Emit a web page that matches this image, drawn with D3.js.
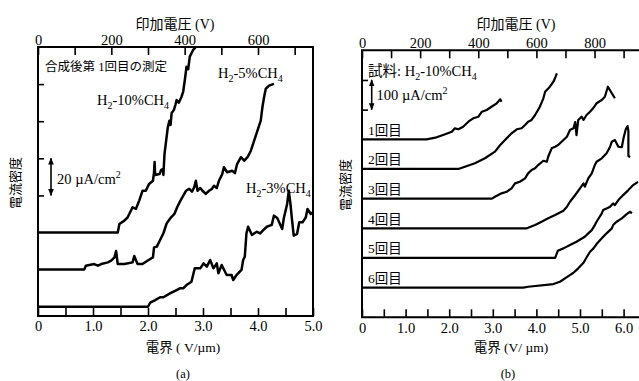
<!DOCTYPE html>
<html>
<head>
<meta charset="utf-8">
<script src="https://cdn.jsdelivr.net/npm/d3@7"></script>
<style>
  body { margin: 0; background: #fff; }
  svg { display: block; }
</style>
</head>
<body>
<svg id="chart" width="639" height="381"></svg>
<script>
// ---- panel (a): 合成後第1回目の測定, curves as [field V/um, current uA/cm2 above own baseline]
const fieldTicksA = [0, 0.5, 1, 1.5, 2, 2.5, 3, 3.5, 4, 4.5, 5]
const voltTicksA = [0, 100, 200, 300, 400, 500, 600, 700]
const currentTicksA = [65, 85, 105, 125]
const offsetsA = [45, 25, 5]
const namesA = ['10', '5', '3']

const h2_10 = [[0,0],[1.45,0],[1.48,4.6],[1.57,6.4],[1.63,8.2],[1.72,13.6],[1.78,12.7],[1.84,17.2],[1.90,22.5],
  [1.96,22.5],[2.02,26.2],[2.09,27.9],[2.11,32.6],[2.12,38],[2.13,31],[2.21,31.5],[2.24,33.8],[2.27,34.2],[2.28,31],
  [2.30,42.3],[2.33,49.5],[2.36,56.7],[2.39,60.3],[2.41,58],[2.43,64.4],[2.47,66],[2.50,69],[2.52,71.4],[2.56,70],
  [2.61,73.2],[2.64,76],[2.67,82.2],[2.70,89.4],[2.73,88],[2.76,94.8],[2.82,98.4],[2.87,100]]
const h2_5 = [[0,0],[0.84,0],[0.87,2.1],[1.02,3],[1.09,2.1],[1.15,3],[1.27,3.9],[1.33,4.8],[1.39,6.6],[1.42,10],
  [1.45,3],[1.57,3],[1.72,3.9],[1.75,7.3],[1.81,3],[1.90,3],[1.99,4.8],[2.09,6.6],[2.11,12],[2.16,12.4],[2.22,16],
  [2.28,19.6],[2.34,25],[2.42,28.2],[2.48,30],[2.53,33.6],[2.59,37.2],[2.69,42.5],[2.75,43.5],[2.80,42],[2.84,44.4],
  [2.87,47.9],[2.90,42.5],[2.95,44],[2.99,42.5],[3.05,40.8],[3.11,42.5],[3.16,43.5],[3.20,45.2],[3.25,44],[3.29,47.9],
  [3.35,51.5],[3.38,55.2],[3.44,52.5],[3.53,53.3],[3.58,52],[3.62,56.9],[3.69,60.6],[3.75,58.7],[3.81,60.6],
  [3.87,64.1],[3.93,69.5],[3.99,74.9],[4.05,80.3],[4.08,87.5],[4.11,92.9],[4.14,97.4],[4.20,99.2],[4.29,100.1]]
const h2_3 = [[0,0],[2.00,0],[2.04,2.2],[2.13,3.6],[2.22,5.1],[2.28,5.1],[2.40,7.2],[2.52,9],[2.58,9.9],[2.64,9.9],
  [2.70,11.7],[2.79,13.5],[2.85,20.7],[2.95,20.7],[3.01,23.4],[3.07,21.6],[3.13,25.2],[3.19,20.7],[3.25,23.4],
  [3.28,18],[3.34,22.5],[3.43,17.1],[3.52,17.1],[3.55,14.4],[3.61,17.1],[3.70,19.8],[3.73,25.2],[3.76,27],[3.79,39.6],
  [3.82,43.1],[3.89,38.7],[3.98,40.4],[4.04,39.5],[4.10,41.4],[4.16,43.1],[4.25,44.1],[4.29,49.1],[4.35,47.8],
  [4.44,41.9],[4.47,47.8],[4.53,55.4],[4.56,62.5],[4.59,55.4],[4.62,46.4],[4.65,38.3],[4.71,39.2],[4.75,45.5],
  [4.81,45.5],[4.87,48.2],[4.90,52.7],[4.96,50],[4.99,50.9]]
const seriesA = [h2_10, h2_5, h2_3]

// ---- panel (b): 試料 H2-10%CH4, 1回目..6回目
const fieldTicksB = [0.5, 1, 1.5, 2, 2.5, 3, 3.5, 4, 4.5, 5, 5.5, 6, 6.5]
const fieldLabelsB = [0, 1, 2, 3, 4, 5, 6]
const voltTicksB = [100, 200, 300, 400, 500, 600, 700, 800, 900, 1000]
const voltLabelsB = [0, 200, 400, 600, 800]
const currentTicksB = [700, 800]
const offsetsB = [600, 500, 400, 300, 200, 100]
const runNames = ['1回目', '2回目', '3回目', '4回目', '5回目', '6回目']

const run1 = [[0,0],[1.48,0],[1.71,6.7],[1.86,14.5],[2.06,25.6],[2.13,37],[2.21,33.7],[2.32,42.5],[2.44,59.3],
  [2.55,70.8],[2.67,76.1],[2.75,93],[2.86,98.7],[2.97,109.8],[3.09,121.3],[3.17,134.8],[3.20,126.7]]
const run2 = [[0,0],[2.21,0],[2.36,7.7],[2.59,19.2],[2.82,36],[3.05,58.3],[3.17,80.9],[3.28,97.7],[3.43,120.3],
  [3.55,133.8],[3.66,137.1],[3.74,148.2],[3.81,159.4],[3.89,165.1],[3.97,181.9],[4.08,209.9],[4.16,238.2],
  [4.20,260.4],[4.31,277.3],[4.39,294.1],[4.44,311],[4.47,322.4]]
const run3 = [[0,0],[2.98,0],[3.05,6.4],[3.20,17.9],[3.32,23.2],[3.43,34.7],[3.51,51.5],[3.62,56.9],[3.74,68.4],
  [3.81,85.2],[3.89,96.4],[3.97,102.1],[4.04,113.2],[4.16,127.7],[4.24,124.3],[4.27,141.2],[4.35,169.5],[4.43,174.9],
  [4.50,180.6],[4.62,197.4],[4.70,208.6],[4.77,231.1],[4.85,236.9],[4.89,258],[4.92,214.3],[4.96,265.2],[5.04,276.3],
  [5.08,265.2],[5.15,282],[5.23,293.1],[5.30,304.6],[5.38,321.4],[5.50,332.5],[5.57,343.6],[5.64,377.3],[5.73,355.1],
  [5.80,338.2]]
const run4 = [[0,0],[3.78,0],[3.97,11.1],[4.12,22.2],[4.27,33.7],[4.43,44.8],[4.62,59.3],[4.70,72.8],[4.77,89.6],
  [4.89,112.2],[5.00,134.8],[5.08,151.6],[5.11,140.2],[5.19,168.5],[5.27,185.3],[5.34,213.3],[5.38,224.4],[5.50,235.8],
  [5.61,252.7],[5.69,274.9],[5.73,291.8],[5.80,297.5],[5.88,274.9],[5.96,273.9],[6.00,305.3],[6.05,333.6],[6.09,344.7],
  [6.11,328],[6.11,243.7],[6.15,240.4]]
const run5 = [[0,0],[4.43,0],[4.49,24.3],[4.62,32.3],[4.77,43.5],[4.92,54.6],[5.11,71.4],[5.19,82.9],[5.27,94],
  [5.34,110.8],[5.38,122],[5.50,150.3],[5.53,161.4],[5.61,167.1],[5.69,172.5],[5.76,184],[5.80,178.2],[5.88,195.1],
  [5.99,211.9],[6.11,228.8],[6.22,245.6],[6.33,256.7]]
const run6 = [[0,0],[3.70,0],[3.81,3],[4.39,12.1],[4.54,19.9],[4.69,34.7],[4.85,50.2],[4.96,65],[5.08,83.9],
  [5.16,104.1],[5.23,121],[5.31,132.4],[5.38,146.9],[5.50,166.1],[5.61,183],[5.73,199.8],[5.76,210.9],[5.84,222],
  [5.96,233.5],[6.07,248],[6.15,255.8],[6.19,250.3]]
const seriesB = [run1, run2, run3, run4, run5, run6]

const FONT = "'Liberation Serif', 'Noto Sans CJK JP', serif"
const GAP = 150 // um, V = E * GAP

const svg = d3.select('#chart')
svg.append('defs').append('marker')
  .attr('id', 'head').attr('viewBox', '0 0 10 10').attr('refX', 9).attr('refY', 5)
  .attr('markerWidth', 7).attr('markerHeight', 7).attr('markerUnits', 'userSpaceOnUse')
  .attr('orient', 'auto-start-reverse')
  .append('path').attr('d', 'M0,1 L10,5 L0,9 Z').attr('fill', '#000')

function axes(p) {
  const { x, y, v, fTicks, fFmt, vTicks, vFmt, cTicks, frame } = p
  const [x0, x1] = x.range(), [y0, y1] = y.range()

  const gb = svg.append('g').attr('transform', `translate(0,${y0})`)
    .call(d3.axisBottom(x).tickValues(fTicks).tickFormat(fFmt).tickSizeInner(-8).tickSizeOuter(0).tickPadding(5))
  const gt = svg.append('g').attr('transform', `translate(0,${y1})`)
    .call(d3.axisTop(v).tickValues(vTicks).tickFormat(vFmt).tickSizeInner(-8).tickSizeOuter(0).tickPadding(2))
  const gl = svg.append('g').attr('transform', `translate(${x0},0)`)
    .call(d3.axisLeft(y).tickValues(cTicks).tickFormat('').tickSizeInner(-6).tickSizeOuter(0))
  for (const g of [gb, gt, gl]) {
    g.attr('font-family', FONT)
    g.select('.domain').remove()
    g.selectAll('line').attr('stroke', '#000').attr('stroke-width', 1.6)
    g.selectAll('text').attr('fill', '#000').attr('font-family', FONT).attr('font-size', '14.5px')
  }

  const right = frame ? x1 : 700
  svg.append('path')
    .attr('d', frame
      ? `M${x0},${y1}H${right}V${y0}H${x0}Z`
      : `M${right},${y1}H${x0}V${y0}H${right}`)
    .attr('fill', 'none').attr('stroke', '#000').attr('stroke-width', 2)
}

function text(x, y, s, size, anchor) {
  return svg.append('text').attr('x', x).attr('y', y).attr('font-family', FONT)
    .attr('font-size', size + 'px').attr('text-anchor', anchor || 'start').attr('fill', '#000').text(s)
}

function h2Label(x, y, pct, prefix) {
  const t = svg.append('text').attr('x', x).attr('y', y).attr('font-family', FONT)
    .attr('font-size', '14.5px').attr('fill', '#000')
  if (prefix) t.append('tspan').text(prefix)
  t.append('tspan').text('H')
  t.append('tspan').attr('font-size', '10px').attr('dy', 4).text('2')
  t.append('tspan').attr('dy', -4).text(`-${pct}%CH`)
  t.append('tspan').attr('font-size', '10px').attr('dy', 4).text('4')
}

function unitArrow(x, yA, yB, label, tx, ty) {
  svg.append('line').attr('x1', x).attr('x2', x).attr('y1', yA).attr('y2', yB)
    .attr('stroke', '#000').attr('stroke-width', 1.6)
    .attr('marker-start', 'url(#head)').attr('marker-end', 'url(#head)')
  const t = svg.append('text').attr('x', tx).attr('y', ty).attr('font-family', FONT)
    .attr('font-size', '14.5px').attr('fill', '#000').text(label)
  t.append('tspan').attr('font-size', '10px').attr('dy', -6).text('2')
}

function curves(x, y, series, offsets, clipId, width) {
  const [x0, x1] = x.range(), [y0, y1] = y.range()
  svg.append('clipPath').attr('id', clipId).append('rect')
    .attr('x', x0).attr('y', y1).attr('width', x1 - x0).attr('height', y0 - y1)
  const line = d3.line().x(d => x(d[0])).y(d => y(d[1]))
  const g = svg.append('g').attr('clip-path', `url(#${clipId})`)
  series.forEach((s, i) => {
    g.append('path')
      .datum(s.map(d => [d[0], d[1] + offsets[i]]))
      .attr('fill', 'none').attr('stroke', '#000').attr('stroke-width', width)
      .attr('stroke-linejoin', 'round').attr('d', line)
  })
}

// ---------- panel (a)
{
  const x = d3.scaleLinear().domain([0, 5]).range([38, 313])
  const v = d3.scaleLinear().domain([0, 5 * GAP]).range([38, 313])
  const y = d3.scaleLinear().domain([0, 145]).range([316, 47])
  axes({ x, y, v, fTicks: fieldTicksA, fFmt: d => d % 1 ? '' : (d === 0 ? '0' : d.toFixed(1)),
    vTicks: voltTicksA, vFmt: d => d % 200 ? '' : d, cTicks: currentTicksA, frame: true })
  curves(x, y, seriesA, offsetsA, 'clipA', 2.5)

  text(45, 71, '合成後第 1回目の測定', 12.5)
  h2Label(97, 105, namesA[0])
  h2Label(218, 78, namesA[1])
  h2Label(246, 193, namesA[2])
  unitArrow(51, y(offsetsA[0] + 20), y(offsetsA[0] + 40), '20 µA/cm', 57, 184)

  text(175, 29, '印加電圧 (V)', 14, 'middle')
  text(183, 352, '電界 ( V/µm)', 13.5, 'middle')
  text(183, 378, '(a)', 12.5, 'middle')
  text(0, 0, '電流密度', 13, 'middle').attr('transform', 'translate(20,183) rotate(-90)')
}

// ---------- panel (b)
{
  const x = d3.scaleLinear().domain([0, 7]).range([362, 667.2])
  const v = d3.scaleLinear().domain([0, 7 * GAP]).range([362, 667.2])
  const y = d3.scaleLinear().domain([0, 900]).range([317.3, 50.3])
  axes({ x, y, v, fTicks: fieldTicksB.concat([0]),
    fFmt: d => fieldLabelsB.includes(d) ? (d === 0 ? '0' : d.toFixed(1)) : '',
    vTicks: voltTicksB.concat([0]), vFmt: d => voltLabelsB.includes(d) ? d : '',
    cTicks: currentTicksB, frame: false })
  curves(x, y, seriesB, offsetsB, 'clipB', 2.2)

  h2Label(368, 76, '10', '試料: ')
  unitArrow(371.7, y(700), y(800), '100 µA/cm', 376.5, 100)
  runNames.forEach((n, i) => text(368, y(offsetsB[i]) - 4.5, n, 13.5))

  text(516, 29, '印加電圧 (V)', 14, 'middle')
  text(511, 352, '電界 (V/ µm)', 13.5, 'middle')
  text(508, 378, '(b)', 12.5, 'middle')
  text(0, 0, '電流密度', 13, 'middle').attr('transform', 'translate(350,185) rotate(-90)')
}
</script>
</body>
</html>
